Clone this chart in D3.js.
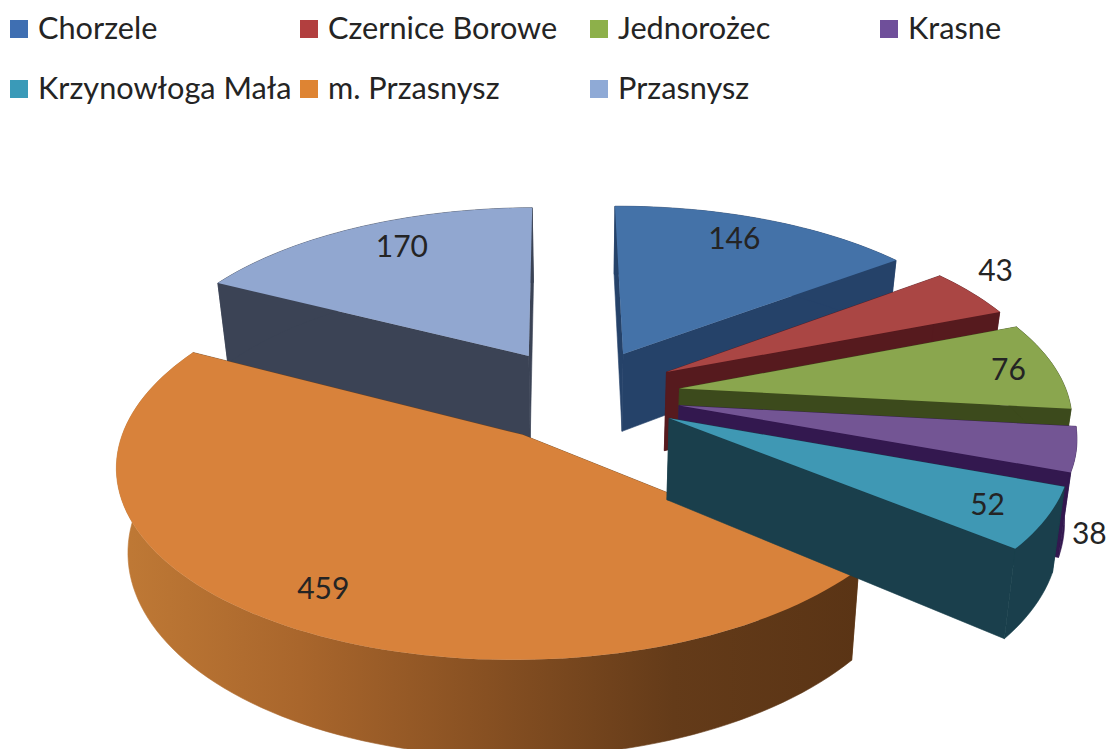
<!DOCTYPE html>
<meta charset="utf-8">
<style>
  html, body { margin: 0; background: #fff; }
  text { font-family: Lato, sans-serif; fill: #242424; }
</style>
<script src="https://d3js.org/d3.v7.min.js"></script>
<svg id="chart" width="1107" height="749"></svg>
<script>

// Data
var gminy = ["Chorzele", "Czernice Borowe", "Jednorożec", "Krasne", "Krzynowłoga Mała", "m. Przasnysz", "Przasnysz"];
var values = [146, 43, 76, 38, 52, 459, 170];

// Colours: top of the slice, legend box, side walls
var topColors = ["#4472a8", "#aa4644", "#8aa64e", "#735594", "#3f98b4", "#d8823b", "#91a7d0"];
var legendColors = ["#3f6fb2", "#b23f3f", "#8db04a", "#6f4f9a", "#3a9ab8", "#de8433", "#8faad6"];
var wallColors = ["#254269", "#561a1e", "#3c4a1c", "#33184f", "#1a3f4c", "#6b421c", "#3b4355"];

// Where each label sits on its slice (radius, turn in degrees from slice middle)
var labelRadius = [0.84, 1.165, 0.88, 1.125, 0.857, 0.83, 0.817];
var labelTurn = [-2.1, -4.7, 0, 20.7, 0, -2.3, 3.7];

var svg = d3.select("#chart");

// Flat disc to screen, simple perspective
var cx = 580, cy = 394.5, scaleX = 388, scaleY = 179.8, persp = 0.144;
var explode = 0.26, depth = 80, shrink = 0.025;
var rotation = -0.5 * Math.PI / 180;

// last slice's wall runs down behind the big one
var wallStretch = [1, 1, 1, 1, 1, 1, 1.1];

function project(x, y, h) {
  var f = 1 / (1 - persp * y);
  return [
    cx + scaleX * x * f * (1 - shrink * h),
    cy + scaleY * y * f + depth * f * h
  ];
}

var pie = d3.pie().sort(null)
  .startAngle(rotation)
  .endAngle(rotation + 2 * Math.PI)
  .value(function(d) { return d; });

var slices = pie(values).map(function(d, i) {
  var mid = (d.startAngle + d.endAngle) / 2;
  d.index = i;
  d.mid = mid;
  d.ox = explode * Math.sin(mid);
  d.oy = -explode * Math.cos(mid);
  return d;
});

function pt(s, angle, r, h) {
  return project(s.ox + r * Math.sin(angle), s.oy - r * Math.cos(angle), h * wallStretch[s.index]);
}

function arcAngles(s) {
  var n = Math.max(6, Math.ceil((s.endAngle - s.startAngle) / 0.03));
  return d3.range(n + 1).map(function(k) {
    return s.startAngle + (s.endAngle - s.startAngle) * k / n;
  });
}

var line = d3.line().curve(d3.curveLinearClosed);

// Gradient on the wall of the big slice
var grad = svg.append("defs").append("linearGradient")
  .attr("id", "wallGrad")
  .attr("gradientUnits", "userSpaceOnUse")
  .attr("x1", 113).attr("x2", 860).attr("y1", 0).attr("y2", 0);
grad.selectAll("stop")
  .data([[0, "#c07a36"], [0.25, "#a9662c"], [0.5, "#875022"], [0.75, "#643b19"], [1, "#5a3415"]])
  .enter().append("stop")
  .attr("offset", function(d) { return d[0]; })
  .attr("stop-color", function(d) { return d[1]; });

// Back to front
var drawOrder = [6, 5, 0, 1, 2, 3, 4];

var g = svg.append("g");
drawOrder.forEach(function(i) {
  var s = slices[i];
  var angles = arcAngles(s);
  var wall = wallColors[i];

  // cut faces
  [s.startAngle, s.endAngle].forEach(function(a) {
    g.append("path")
      .attr("d", line([pt(s, a, 0, 0), pt(s, a, 1, 0), pt(s, a, 1, 1), pt(s, a, 0, 1)]))
      .attr("fill", wall)
      .attr("stroke", wall)
      .attr("stroke-width", 0.6);
  });

  // outer wall
  var outer = angles.map(function(a) { return pt(s, a, 1, 0); })
    .concat(angles.slice().reverse().map(function(a) { return pt(s, a, 1, 1); }));
  g.append("path")
    .attr("d", line(outer))
    .attr("fill", i === 5 ? "url(#wallGrad)" : wall)
    .attr("stroke", i === 5 ? "url(#wallGrad)" : wall)
    .attr("stroke-width", 0.6);

  // top
  var top = [pt(s, 0, 0, 0)].concat(angles.map(function(a) { return pt(s, a, 1, 0); }));
  g.append("path")
    .attr("d", line(top))
    .attr("fill", topColors[i]);
});

// Value labels
svg.append("g")
  .attr("transform", "translate(-1,1)")
  .selectAll("text")
  .data(slices)
  .enter().append("text")
  .attr("transform", function(d) {
    var a = d.mid + labelTurn[d.index] * Math.PI / 180;
    return "translate(" + pt(d, a, labelRadius[d.index], 0) + ")";
  })
  .attr("text-anchor", "middle")
  .attr("dy", "0.36em")
  .attr("font-size", 30)
  .text(function(d) { return d.data; });

// Legend: four columns, two rows
var legendX = d3.scalePoint().domain(d3.range(4)).range([10, 880]);
var legendY = d3.scalePoint().domain(d3.range(2)).range([29, 89]);

var legend = svg.append("g").selectAll("g")
  .data(gminy)
  .enter().append("g")
  .attr("transform", function(d, i) {
    return "translate(" + legendX(i % 4) + "," + legendY(Math.floor(i / 4)) + ")";
  });

legend.append("rect")
  .attr("x", 0).attr("y", -9)
  .attr("width", 18).attr("height", 18)
  .attr("fill", function(d, i) { return legendColors[i]; });

legend.append("text")
  .attr("x", 28)
  .attr("dy", "0.34em")
  .attr("font-size", 30.7)
  .text(function(d) { return d; });

</script>
